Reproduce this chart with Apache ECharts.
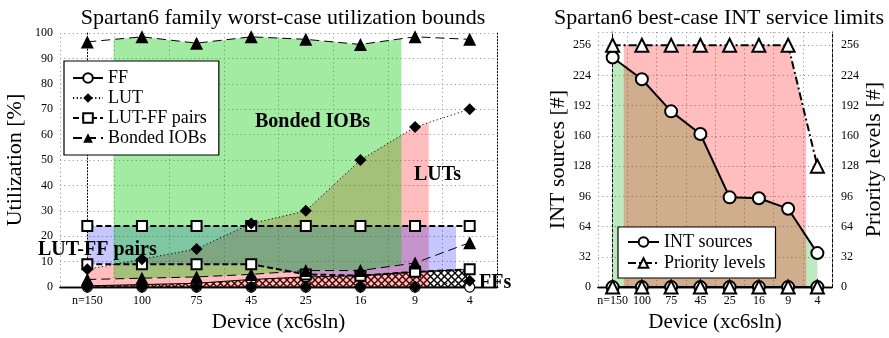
<!DOCTYPE html>
<html>
<head>
<meta charset="utf-8">
<script src="https://cdn.jsdelivr.net/npm/echarts@6/dist/echarts.min.js"></script>
<style>html,body{margin:0;padding:0;background:#fff;}#c{width:889px;height:338px;}</style>
</head>
<body>
<div id="c"></div>
<script>
// ---------- data ----------
const categories = ['n=150', '100', '75', '45', '25', '16', '9', '4'];
// left chart: worst-case utilization bounds [%]
const ffUpper    = [0.5, 1, 1.5, 3, 4, 4.5, 6, 7];
const ffLower    = [0, 0, 0, 0, 0, 0, 0, 0];
const lutUpper   = [7, 11, 15, 25, 30, 50, 63, 70];
const lutLower   = [0, 0, 0, 0, 0, 0, 0, 2.5];
const pairsUpper = [24, 24, 24, 24, 24, 24, 24, 24];
const pairsLower = [9, 9, 9, 9, 5, 4.5, 6, 7];
const iobUpper   = [96.5, 98.5, 96, 98.5, 97.5, 95.5, 98.5, 97.5];
const iobLower   = [3, 3.5, 4, 5, 6.5, 6.5, 9.5, 17.5];
const leftTicks  = {min: 0, max: 100, interval: 10};
// right chart: best-case INT service limits [#]
const intUpper   = [243, 220, 186, 162, 95, 94, 83, 36];
const intLower   = [0, 0, 0, 0, 0, 0, 0, 0];
const prioUpper  = [256, 256, 256, 256, 256, 256, 256, 128];
const prioLower  = [0, 0, 0, 0, 0, 0, 0, 0];
const rightTicks = {min: 0, max: 270, interval: 32};

// ---------- styling / layout ----------
const FONT = '"Liberation Serif", "DejaVu Serif", serif';
// extents (in category-index units) of shaded ranges
const extIob = [0.48, 5.75], extLut = [0, 6.25], extPairs = [0, 6.75], extFf = [0, 7];
const extInt = [0, 7], extPrio = [0.38, 6.62];

const hatch = (function () {
  const c = document.createElement('canvas');
  c.width = 7; c.height = 7;
  const g = c.getContext('2d');
  g.strokeStyle = '#000'; g.lineWidth = 1.4;
  g.beginPath();
  g.moveTo(0, 0); g.lineTo(7, 7);
  g.moveTo(7, 0); g.lineTo(0, 7);
  g.stroke();
  return {image: c, repeat: 'repeat'};
})();

function interp(arr, x) {
  const i = Math.floor(x);
  if (i >= arr.length - 1) return arr[arr.length - 1];
  if (i < 0) return arr[0];
  const t = x - i;
  return arr[i] * (1 - t) + arr[i + 1] * t;
}
function rangeSeries(name, lower, upper, ext, fill, xi, yi, order) {
  return {
    type: 'custom', name: name + '_range', xAxisIndex: xi, yAxisIndex: yi, z: 1, silent: true,
    data: [[0, 0]], encode: {x: 0, y: 1},
    renderItem: function (params, api) {
      const xs = [ext[0]];
      for (let k = Math.floor(ext[0]) + 1; k < ext[1]; k++) xs.push(k);
      xs.push(ext[1]);
      const top = xs.map(x => api.coord([x, interp(upper, x)]));
      const bot = xs.slice().reverse().map(x => api.coord([x, interp(lower, x)]));
      return {type: 'polygon', z2: order, shape: {points: top.concat(bot)}, style: {fill: fill, stroke: null}};
    }
  };
}
function lineSeries(name, data, xi, yi, sym, size, lineStyle, itemStyle) {
  return {
    type: 'line', name: name, xAxisIndex: xi, yAxisIndex: yi, data: data, z: 5,
    symbol: sym, symbolSize: size, showAllSymbol: true, lineStyle: lineStyle, itemStyle: itemStyle
  };
}
const txt = {fontFamily: FONT, color: '#000'};
const gridLine = {show: true, lineStyle: {color: '#9a9a9a', type: [1.2, 3], width: 1}};

function catAxis(gi, name) {
  return {
    type: 'category', gridIndex: gi, data: categories, boundaryGap: true,
    axisLine: {show: true, lineStyle: {color: '#000', width: 1.3}},
    axisTick: {show: false},
    axisLabel: Object.assign({fontSize: 12, margin: 8, interval: 0}, txt),
    splitLine: gridLine,
    name: name, nameLocation: 'middle', nameGap: 22,
    nameTextStyle: Object.assign({fontSize: 21}, txt)
  };
}
function topAxis(gi) {
  return {
    type: 'category', gridIndex: gi, data: categories, position: 'top', boundaryGap: true,
    axisLine: {show: true, lineStyle: {color: '#000', width: 1.3}},
    axisTick: {show: false}, axisLabel: {show: false}, splitLine: {show: false}
  };
}
function valX(gi) { return {type: 'value', gridIndex: gi, min: -0.5, max: 7.5, show: false}; }

const pLeftBorder = {show: true, lineStyle: {color: '#000', type: [1.2, 2], width: 1}};
const pRightBorder = {show: true, lineStyle: {color: '#000', type: [3, 2], width: 1}};
const legendText = Object.assign({fontSize: 18, lineHeight: 16}, txt);

const option = {
  animation: false,
  backgroundColor: '#fff',
  title: [
    {text: 'Spartan6 family worst-case utilization bounds', left: 278, top: 2, textAlign: 'center',
     textStyle: Object.assign({fontSize: 22, fontWeight: 'normal'}, txt)},
    {text: 'Spartan6 best-case INT service limits', left: 714, top: 2, textAlign: 'center',
     textStyle: Object.assign({fontSize: 22, fontWeight: 'normal'}, txt)}
  ],
  grid: [
    {left: 60, top: 33, width: 437, height: 261},
    {left: 598, top: 32, width: 234, height: 262}
  ],
  xAxis: [
    catAxis(0, 'Device (xc6sln)'), topAxis(0), valX(0),
    catAxis(1, 'Device (xc6sln)'), topAxis(1), valX(1)
  ],
  yAxis: [
    Object.assign({type: 'value', gridIndex: 0, position: 'left', axisLine: pLeftBorder,
      axisTick: {show: false}, axisLabel: Object.assign({fontSize: 12, margin: 7}, txt),
      splitLine: gridLine, name: 'Utilization [%]', nameLocation: 'middle', nameGap: 34, nameRotate: 90,
      nameTextStyle: Object.assign({fontSize: 22}, txt)}, leftTicks),
    Object.assign({type: 'value', gridIndex: 0, position: 'right', axisLine: pLeftBorder,
      axisTick: {show: false}, axisLabel: {show: false}, splitLine: {show: false}}, leftTicks),
    Object.assign({type: 'value', gridIndex: 1, position: 'left', axisLine: pRightBorder,
      axisTick: {show: false}, axisLabel: Object.assign({fontSize: 12, margin: 7, showMaxLabel: false}, txt),
      splitLine: gridLine, name: 'INT sources [#]', nameLocation: 'middle', nameGap: 25, nameRotate: 90,
      nameTextStyle: Object.assign({fontSize: 22}, txt)}, rightTicks),
    Object.assign({type: 'value', gridIndex: 1, position: 'right', axisLine: pRightBorder,
      axisTick: {show: false}, axisLabel: Object.assign({fontSize: 12, margin: 9, showMaxLabel: false}, txt),
      splitLine: {show: false}, name: 'Priority levels [#]', nameLocation: 'middle', nameGap: 30, nameRotate: 90,
      nameTextStyle: Object.assign({fontSize: 22}, txt)}, rightTicks)
  ],
  legend: [
    {data: ['FF', 'LUT', 'LUT-FF pairs', 'Bonded IOBs'], orient: 'vertical', left: 64, top: 61, z: 20,
     backgroundColor: '#fff', borderColor: '#000', borderWidth: 1.2, padding: [8, 12, 8, 8],
     itemGap: 2, itemWidth: 30, itemHeight: 12, textStyle: legendText},
    {data: ['INT sources', 'Priority levels'], orient: 'vertical', left: 618, top: 227, z: 20,
     backgroundColor: '#fff', borderColor: '#000', borderWidth: 1.2, padding: [6, 10, 6, 9],
     itemGap: 3, itemWidth: 31, itemHeight: 12, textStyle: Object.assign({}, legendText, {lineHeight: 18})}
  ],
  graphic: [
    {type: 'text', z: 20, left: 255, top: 112, style: {text: 'Bonded IOBs', font: 'bold 20px ' + FONT, fill: '#000'}},
    {type: 'text', z: 20, left: 414, top: 165, style: {text: 'LUTs', font: 'bold 20px ' + FONT, fill: '#000'}},
    {type: 'text', z: 20, left: 38, top: 240, style: {text: 'LUT-FF pairs', font: 'bold 20px ' + FONT, fill: '#000'}},
    {type: 'text', z: 20, left: 479, top: 273, style: {text: 'FFs', font: 'bold 20px ' + FONT, fill: '#000'}}
  ],
  series: [
    rangeSeries('FF', ffLower, ffUpper, extFf, hatch, 2, 0, 1),
    rangeSeries('LUT', lutLower, lutUpper, extLut, 'rgba(255,0,0,0.26)', 2, 0, 2),
    rangeSeries('Pairs', pairsLower, pairsUpper, extPairs, 'rgba(0,0,255,0.22)', 2, 0, 3),
    rangeSeries('IOB', iobLower, iobUpper, extIob, 'rgba(0,200,0,0.36)', 2, 0, 4),
    rangeSeries('INT', intLower, intUpper, extInt, 'rgba(0,170,0,0.25)', 5, 2, 1),
    rangeSeries('Prio', prioLower, prioUpper, extPrio, 'rgba(255,0,0,0.26)', 5, 2, 2),

    lineSeries('FF', ffUpper, 0, 0, 'circle', 10, {color: '#000', width: 1},
      {color: '#fff', borderColor: '#000', borderWidth: 1.2}),
    lineSeries('FF', ffLower, 0, 0, 'circle', 10, {color: '#000', width: 1},
      {color: '#fff', borderColor: '#000', borderWidth: 1.2}),
    lineSeries('LUT-FF pairs', pairsUpper, 0, 0, 'rect', 10, {color: '#000', width: 2, type: [6, 3]},
      {color: '#fff', borderColor: '#000', borderWidth: 2}),
    lineSeries('LUT-FF pairs', pairsLower, 0, 0, 'rect', 10, {color: '#000', width: 2, type: [6, 3]},
      {color: '#fff', borderColor: '#000', borderWidth: 2}),
    lineSeries('LUT', lutUpper, 0, 0, 'diamond', 12, {color: '#000', width: 1, type: [1.2, 2.5]},
      {color: '#000', borderColor: '#000', borderWidth: 0}),
    lineSeries('LUT', lutLower, 0, 0, 'diamond', 12, {color: '#000', width: 1, type: [1.2, 2.5]},
      {color: '#000', borderColor: '#000', borderWidth: 0}),
    lineSeries('Bonded IOBs', iobUpper, 0, 0, 'triangle', 13, {color: '#000', width: 1, type: [9, 5]},
      {color: '#000', borderColor: '#000', borderWidth: 0}),
    lineSeries('Bonded IOBs', iobLower, 0, 0, 'triangle', 13, {color: '#000', width: 1, type: [9, 5]},
      {color: '#000', borderColor: '#000', borderWidth: 0}),

    lineSeries('INT sources', intUpper, 3, 2, 'circle', 12, {color: '#000', width: 2},
      {color: '#fff', borderColor: '#000', borderWidth: 2}),
    lineSeries('INT sources', intLower, 3, 2, 'circle', 12, {color: '#000', width: 2},
      {color: '#fff', borderColor: '#000', borderWidth: 2}),
    lineSeries('Priority levels', prioUpper, 3, 2, 'triangle', 13, {color: '#000', width: 2, type: [8, 3, 2, 3]},
      {color: '#fff', borderColor: '#000', borderWidth: 2}),
    lineSeries('Priority levels', prioLower, 3, 2, 'triangle', 13, {color: '#000', width: 2, type: [8, 3, 2, 3]},
      {color: '#fff', borderColor: '#000', borderWidth: 2})
  ]
};
const chart = echarts.init(document.getElementById('c'), null, {renderer: 'canvas'});
chart.setOption(option);
</script>
</body>
</html>
